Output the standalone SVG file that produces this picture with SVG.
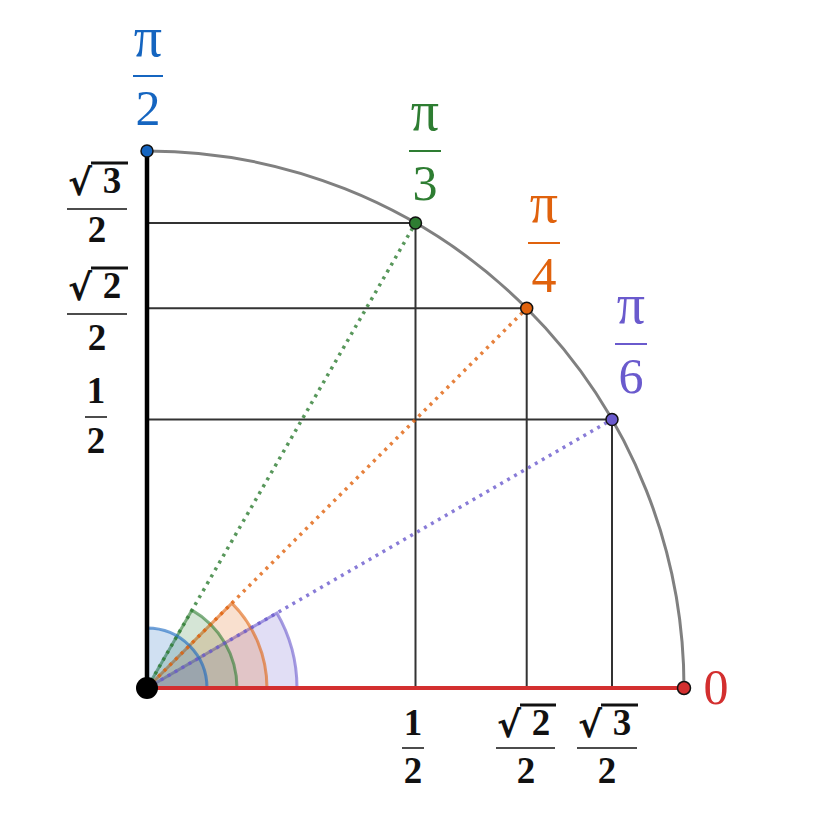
<svg xmlns="http://www.w3.org/2000/svg" width="816" height="816" viewBox="0 0 816 816">
<style>
.lbl{font-family:"Liberation Serif","DejaVu Serif",serif;font-size:50px;text-anchor:middle}
.pi{font-size:56px}
.b{font-family:"Liberation Serif","DejaVu Serif",serif;font-size:37px;font-weight:bold;text-anchor:middle;fill:#111}
.rad{font-family:"DejaVu Sans",sans-serif;font-size:36px;font-weight:bold;fill:#111;text-anchor:start}
.grid{stroke:#333;stroke-width:2;fill:none}
.dot{fill:none;stroke-width:3.5;stroke-dasharray:3 5}
.pt{stroke:#111;stroke-width:1.5}
</style>
<rect width="816" height="816" fill="#fff"/>
<g id="wedges" stroke-width="3" stroke-opacity="0.6" fill-opacity="0.2">
<path d="M147,688 L297,688 A150,150 0 0 0 276.9,613 Z" fill="#6a5acd" stroke="#6a5acd"/>
<path d="M147,688 L267,688 A120,120 0 0 0 231.85,603.15 Z" fill="#e0620d" stroke="#e0620d"/>
<path d="M147,688 L237,688 A90,90 0 0 0 192,610.1 Z" fill="#2e7d32" stroke="#2e7d32"/>
<path d="M147,688 L207,688 A60,60 0 0 0 147,628 Z" fill="#1565c0" stroke="#1565c0"/>
</g>
<g id="connectors">
<path class="grid" d="M147,223 H415.5 V688 M147,308.3 H526.7 V688 M147,419.5 H612 V688"/>
<path d="M684,688 A537,537 0 0 0 147,151" fill="none" stroke="#808080" stroke-width="3"/>
<line class="dot" x1="147" y1="688" x2="415.5" y2="223" stroke="#2e7d32" stroke-opacity="0.8"/>
<line class="dot" x1="147" y1="688" x2="526.7" y2="308.3" stroke="#e0620d" stroke-opacity="0.8"/>
<line class="dot" x1="147" y1="688" x2="612" y2="419.5" stroke="#6a5acd" stroke-opacity="0.8"/>
<line x1="147" y1="688" x2="684" y2="688" stroke="#d32f2f" stroke-width="4"/>
<line x1="147" y1="688" x2="147" y2="151" stroke="#000" stroke-width="4.5"/>
</g>
<g id="origin"><circle cx="147" cy="688" r="11" fill="#000"/></g>
<g id="p0"><circle class="pt" cx="684" cy="688" r="6.5" fill="#d32f2f"/>
<text class="lbl" x="716" y="704" fill="#d32f2f">0</text></g>
<g id="p90"><circle class="pt" cx="147" cy="151" r="6" fill="#1565c0"/>
<text class="lbl pi" x="148" y="56" fill="#1565c0">π</text>
<line x1="133" y1="76" x2="163" y2="76" stroke="#1565c0" stroke-width="2"/>
<text class="lbl" x="148" y="125" fill="#1565c0">2</text></g>
<g id="p60"><circle class="pt" cx="415.5" cy="223" r="6" fill="#2e7d32"/>
<text class="lbl pi" x="425" y="130" fill="#2e7d32">π</text>
<line x1="409" y1="151" x2="441" y2="151" stroke="#2e7d32" stroke-width="2"/>
<text class="lbl" x="425" y="200" fill="#2e7d32">3</text></g>
<g id="p45"><circle class="pt" cx="526.7" cy="308.3" r="6" fill="#e0620d"/>
<text class="lbl pi" x="544" y="222" fill="#e0620d">π</text>
<line x1="528" y1="243" x2="560" y2="243" stroke="#e0620d" stroke-width="2"/>
<text class="lbl" x="544" y="292" fill="#e0620d">4</text></g>
<g id="p30"><circle class="pt" cx="612" cy="419.5" r="6" fill="#6a5acd"/>
<text class="lbl pi" x="631" y="323" fill="#6a5acd">π</text>
<line x1="615" y1="344" x2="647" y2="344" stroke="#6a5acd" stroke-width="2"/>
<text class="lbl" x="631" y="393" fill="#6a5acd">6</text></g>
<g id="ylabels">
<text class="rad" x="68" y="195">√</text>
<text class="b" x="112" y="193">3</text>
<line x1="91" y1="163" x2="128" y2="163" stroke="#111" stroke-width="3"/>
<line x1="67" y1="209" x2="127" y2="209" stroke="#111" stroke-width="1.5"/>
<text class="b" x="97" y="242">2</text>
<text class="rad" x="68" y="300">√</text>
<text class="b" x="112" y="298">2</text>
<line x1="91" y1="268" x2="128" y2="268" stroke="#111" stroke-width="3"/>
<line x1="67" y1="314" x2="127" y2="314" stroke="#111" stroke-width="1.5"/>
<text class="b" x="97" y="350">2</text>
<text class="b" x="96" y="403">1</text>
<line x1="85" y1="417" x2="107" y2="417" stroke="#111" stroke-width="1.5"/>
<text class="b" x="96" y="453">2</text>
</g>
<g id="xlabels">
<text class="b" x="413" y="735">1</text>
<line x1="402" y1="748" x2="424" y2="748" stroke="#111" stroke-width="1.5"/>
<text class="b" x="413" y="783">2</text>
<text class="rad" x="497" y="737">√</text>
<text class="b" x="541" y="735">2</text>
<line x1="520" y1="705" x2="556" y2="705" stroke="#111" stroke-width="3"/>
<line x1="496" y1="748" x2="555" y2="748" stroke="#111" stroke-width="1.5"/>
<text class="b" x="526" y="783">2</text>
<text class="rad" x="578" y="737">√</text>
<text class="b" x="622" y="735">3</text>
<line x1="601" y1="705" x2="638" y2="705" stroke="#111" stroke-width="3"/>
<line x1="577" y1="748" x2="637" y2="748" stroke="#111" stroke-width="1.5"/>
<text class="b" x="607" y="783">2</text>
</g>
</svg>
